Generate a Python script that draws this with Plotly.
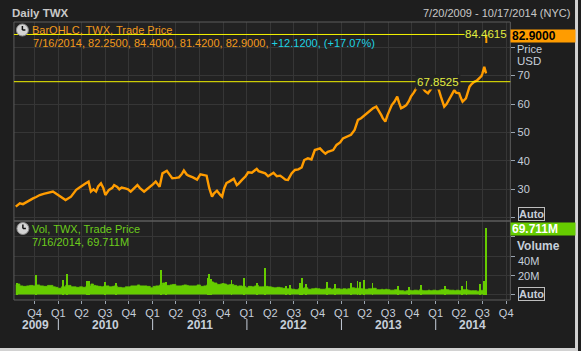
import plotly.graph_objects as go

# ---------------- data ----------------
dates = [
    "2009-07-20", "2009-07-28", "2009-08-05", "2009-08-17", "2009-08-31", "2009-09-11", "2009-09-25",
    "2009-10-07", "2009-10-21", "2009-11-05", "2009-11-20", "2009-12-11", "2009-12-21", "2009-12-30",
    "2010-01-13", "2010-01-29", "2010-02-19", "2010-03-11", "2010-03-24", "2010-04-05", "2010-04-16",
    "2010-04-28", "2010-05-07", "2010-05-17", "2010-05-27", "2010-06-04", "2010-06-15", "2010-06-24",
    "2010-07-02", "2010-07-16", "2010-07-29", "2010-08-05", "2010-08-17", "2010-08-25", "2010-09-03",
    "2010-09-17", "2010-09-28", "2010-10-08", "2010-10-21", "2010-11-03", "2010-11-12", "2010-11-29",
    "2010-12-10", "2010-12-23", "2011-01-03", "2011-01-13", "2011-01-28", "2011-02-08", "2011-02-18",
    "2011-02-25", "2011-03-09", "2011-03-18", "2011-04-01", "2011-04-13", "2011-04-25", "2011-05-02",
    "2011-05-13", "2011-05-20", "2011-06-06", "2011-06-22", "2011-07-05", "2011-07-18", "2011-07-29",
    "2011-08-08", "2011-08-19", "2011-08-26", "2011-09-07", "2011-09-20", "2011-09-27", "2011-10-05",
    "2011-10-14", "2011-10-26", "2011-11-11", "2011-11-23", "2011-11-30", "2011-12-13", "2011-12-27",
    "2012-01-06", "2012-01-20", "2012-01-31", "2012-02-08", "2012-02-15", "2012-02-27", "2012-03-12",
    "2012-03-23", "2012-04-05", "2012-04-13", "2012-04-26", "2012-05-09", "2012-05-18", "2012-05-29",
    "2012-06-08", "2012-06-22", "2012-07-05", "2012-07-18", "2012-07-31", "2012-08-10", "2012-08-24",
    "2012-09-07", "2012-09-20", "2012-09-28", "2012-10-10", "2012-10-19", "2012-10-31", "2012-11-09",
    "2012-11-21", "2012-11-30", "2012-12-13", "2012-12-27", "2013-01-07", "2013-01-18", "2013-01-25",
    "2013-02-07", "2013-02-21", "2013-03-06", "2013-03-18", "2013-03-25", "2013-04-05", "2013-04-15",
    "2013-04-25", "2013-05-03", "2013-05-16", "2013-05-29", "2013-06-05", "2013-06-10", "2013-06-20",
    "2013-06-28", "2013-07-08", "2013-07-15", "2013-07-25", "2013-08-05", "2013-08-12", "2013-08-20",
    "2013-08-30", "2013-09-09", "2013-09-19", "2013-09-27", "2013-10-08", "2013-10-17", "2013-10-23",
    "2013-10-30", "2013-11-06", "2013-11-12", "2013-11-21", "2013-12-02", "2013-12-10", "2013-12-20",
    "2014-01-02", "2014-01-13", "2014-01-21", "2014-02-03", "2014-02-12", "2014-02-21", "2014-03-03",
    "2014-03-14", "2014-03-21", "2014-04-02", "2014-04-09", "2014-04-15", "2014-04-28", "2014-05-05",
    "2014-05-12", "2014-05-20", "2014-05-30", "2014-06-09", "2014-06-19", "2014-06-27", "2014-07-01",
    "2014-07-08", "2014-07-15",
]
close = [
    23.9, 24.6, 25.1, 24.8, 25.6, 26.0, 26.8,
    27.3, 28.0, 28.4, 28.8, 29.2, 28.6, 28.0,
    27.2, 26.2, 27.4, 29.8, 30.6, 31.5, 32.0,
    32.7, 29.2, 30.0, 29.2, 31.0, 32.1, 30.5,
    28.0, 29.8, 30.5, 31.5, 30.8, 30.0, 30.6,
    30.3, 30.0, 29.2, 30.4, 31.5, 30.5, 29.2,
    30.0, 30.9, 31.8, 32.7, 30.9, 35.6, 36.0,
    36.5, 35.0, 33.9, 34.0, 34.2, 35.5, 36.6,
    35.2, 34.8, 34.2, 33.4, 35.3, 35.0, 34.8,
    30.5, 27.4, 28.5, 29.5, 28.0, 27.4, 30.3,
    32.2, 32.8, 33.7, 31.5, 32.0, 33.3, 34.6,
    36.0, 35.8, 36.6, 37.2, 36.4, 36.0, 35.6,
    34.6, 35.5, 35.8, 34.6, 34.8, 34.2, 33.4,
    33.3, 35.6, 36.8, 37.0, 37.7, 40.3, 40.9,
    40.5, 43.8, 44.0, 44.4, 43.5, 42.5, 43.2,
    43.5, 43.8, 45.6, 46.5, 47.9, 48.3, 48.5,
    49.2, 50.9, 54.4, 55.0, 55.5, 56.5, 57.3,
    58.0, 58.5, 59.1, 57.3, 56.0, 55.0, 53.8,
    56.0, 58.5, 59.6, 60.8, 62.6, 60.5, 58.5,
    59.0, 59.6, 61.0, 62.6, 64.0, 65.5, 66.5,
    67.3, 66.3, 65.5, 64.5, 63.8, 65.0, 66.1,
    67.3, 65.0, 62.6, 59.1, 60.0, 61.4, 63.0,
    64.9, 64.0, 63.8, 62.0, 60.8, 62.0, 64.0,
    66.1, 67.0, 67.8, 68.2, 69.0, 69.8, 70.8,
    73.1, 70.78,
]
base_vol = [  # millions
    10, 11, 9, 8.5, 9, 9.5, 9,
    10, 9, 8.5, 9.5, 8, 7.5, 6.5,
    8, 9.5, 8, 7.5, 8, 7.5, 8,
    9, 11, 9.5, 9, 8.5, 8, 8.5,
    9, 8, 8.5, 9, 7.5, 7.5, 7,
    8, 8, 9, 9, 10, 9, 9,
    8.5, 7, 8.5, 9, 10, 12, 10,
    9.5, 10, 10.5, 9, 9, 9.5, 10,
    9.5, 9, 9, 10, 8.5, 9, 10,
    14, 13, 12, 10.5, 11, 11.5, 11,
    10, 10.5, 9.5, 8.5, 9, 8.5, 7,
    8.5, 8, 9, 9.5, 8, 8, 8.5,
    8, 7.5, 7, 7.5, 7, 6.5, 6,
    6, 5.5, 5, 6, 6.5, 7, 5.5,
    6, 6.5, 6, 5.5, 5.5, 6, 6.5,
    5.5, 6, 6, 5.5, 6, 5.5, 6,
    7, 6.5, 6.5, 6, 5.5, 5.5, 6,
    6, 6.5, 5, 5, 5.5, 5, 5.5,
    5, 4.5, 4.5, 5, 5, 4, 4,
    3.5, 4, 4.5, 4, 4.5, 4.5, 4,
    5, 4.5, 4, 4, 4.5, 4, 4.5,
    4, 4.5, 5, 5.5, 5, 4.5, 4.5,
    4, 4.5, 4, 4.5, 5, 5, 4.5,
    4, 4, 4, 3.5, 4, 4.5, 4,
    5, 6,
]
spike_dates = [
    "2009-07-24", "2009-10-05", "2010-01-19", "2010-02-04", "2010-04-21", "2010-04-30", "2010-07-02",
    "2010-08-12", "2011-02-03", "2011-02-22", "2011-08-03", "2011-08-08", "2011-08-16", "2011-11-02",
    "2011-12-22", "2012-02-08", "2012-03-12", "2012-05-31", "2012-06-15", "2012-07-25", "2012-08-02",
    "2012-08-15", "2012-11-07", "2012-12-07", "2013-02-06", "2013-03-04", "2013-03-15", "2013-03-28",
    "2013-05-01", "2013-08-07", "2013-09-20", "2013-11-06", "2014-02-05", "2014-04-11", "2014-04-30",
    "2014-06-20", "2014-07-07", "2014-07-16",
]
spike_vol = [
    11.6, 20, 15, 21, 14, 14.5, 13,
    12, 25.5, 13, 17, 21, 16, 15,
    17, 12.5, 28, 9, 10, 11.6, 17.5,
    11, 13.4, 10.6, 12.3, 14, 13, 15,
    11.6, 9, 8.2, 10, 9, 9, 14.4,
    11, 14.4, 69.711,
]
last_bar_date = ["2014-07-16"]
last_open = [82.25]
last_high = [84.40]
last_low = [81.42]
last_close = [82.90]
last_volume = [69.711]
change_text = "+12.1200"
change_pct_text = "(+17.07%)"
period_high = 84.4615
ref_level = 67.8525

quarter_ticks = [
    "2009-10-01",
    "2010-01-01", "2010-04-01", "2010-07-01", "2010-10-01",
    "2011-01-01", "2011-04-01", "2011-07-01", "2011-10-01",
    "2012-01-01", "2012-04-01", "2012-07-01", "2012-10-01",
    "2013-01-01", "2013-04-01", "2013-07-01", "2013-10-01",
    "2014-01-01", "2014-04-01", "2014-07-01", "2014-10-01",
]
quarter_labels = ["Q4"] + ["Q1", "Q2", "Q3", "Q4"] * 5
year_labels = ["2009", "2010", "2011", "2012", "2013", "2014"]
year_label_dates = ["2009-10-04", "2010-07-02", "2011-07-02", "2012-07-01", "2013-07-02", "2014-05-25"]
year_starts = ["2010-01-01", "2011-01-01", "2012-01-01", "2013-01-01", "2014-01-01"]
price_ticks = [20, 30, 40, 50, 60, 70, 80]
price_tick_text = ["", "30", "40", "50", "60", "70", ""]
vol_ticks = [0, 20, 40, 60]
vol_tick_text = ["", "20M", "40M", ""]
x_range = ["2009-07-13", "2014-10-17"]

# ---------------- style ----------------
W, H = 581, 351


def px(x):
    return x / W


def py(y):
    return 1 - y / H


FONT = "Liberation Sans"
BG = "#1e1e1e"
PANE_BG = "#222222"
GRID = "#363636"
BORDER = "#5c5c5c"
AXIS_TXT = "#c6ceda"
ORANGE = "#ff9c00"
ORANGE_TXT = "#f29a1c"
GREEN = "#66cc00"
GREEN_TXT = "#6ccc1c"
CYAN = "#1fd2e4"
YELLOW = "#f4f400"
YELLOW_TXT = "#e2ee40"

fig = go.Figure()
fig.add_trace(go.Scatter(
    x=dates, y=base_vol, xaxis="x", yaxis="y", mode="lines",
    line=dict(color=GREEN, width=0.8, shape="hv"), fill="tozeroy", fillcolor=GREEN,
    hoverinfo="skip"))
fig.add_trace(go.Bar(
    x=spike_dates, y=spike_vol, xaxis="x", yaxis="y",
    width=[3.5 * 86400000] * len(spike_dates),
    marker=dict(color=GREEN, line=dict(width=0))))
fig.add_trace(go.Scatter(
    x=dates, y=close, xaxis="x2", yaxis="y2", mode="lines",
    line=dict(color=ORANGE, width=2.4)))
fig.add_trace(go.Scatter(
    x=last_bar_date * 2, y=[last_low[0], last_high[0]], xaxis="x2", yaxis="y2",
    mode="lines", line=dict(color=ORANGE, width=2)))

shapes = []
# pane borders
shapes.append(dict(type="rect", xref="paper", yref="paper", x0=px(14), x1=px(513),
                   y0=py(221), y1=py(22), line=dict(color=BORDER, width=1), layer="above"))
shapes.append(dict(type="rect", xref="paper", yref="paper", x0=px(14), x1=px(513),
                   y0=py(300), y1=py(221), line=dict(color=BORDER, width=1), layer="above"))
# high / reference lines
shapes.append(dict(type="line", xref="paper", yref="y2", x0=px(14), x1=px(467),
                   y0=period_high, y1=period_high, line=dict(color=YELLOW, width=1)))
shapes.append(dict(type="line", xref="paper", yref="y2", x0=px(14), x1=px(513),
                   y0=ref_level, y1=ref_level, line=dict(color=YELLOW, width=1)))
# year separators
for d in year_starts:
    shapes.append(dict(type="line", xref="x", yref="paper", x0=d, x1=d,
                       y0=py(330), y1=py(319), line=dict(color=AXIS_TXT, width=1)))
# clock icons
for cx, cy in [(22.5, 30), (23, 228.5)]:
    shapes.append(dict(type="circle", xref="paper", yref="paper",
                       x0=px(cx - 6), x1=px(cx + 6), y0=py(cy + 6), y1=py(cy - 6),
                       fillcolor="#d4d4d4", line=dict(color="#8c8c8c", width=1)))
    shapes.append(dict(type="line", xref="paper", yref="paper", x0=px(cx), x1=px(cx),
                       y0=py(cy), y1=py(cy - 4), line=dict(color="#111111", width=1.5)))
    shapes.append(dict(type="line", xref="paper", yref="paper", x0=px(cx), x1=px(cx + 3),
                       y0=py(cy), y1=py(cy), line=dict(color="#111111", width=1.5)))
# light window edge
shapes.append(dict(type="rect", xref="paper", yref="paper", x0=px(578), x1=1, y0=0, y1=1,
                   fillcolor="#d2d2d2", line=dict(width=0)))
shapes.append(dict(type="rect", xref="paper", yref="paper", x0=0, x1=1, y0=0, y1=py(348),
                   fillcolor="#d2d2d2", line=dict(width=0)))

ann = []


def text(x, y, s, color, size=11, xanchor="left", **kw):
    ann.append(dict(xref="paper", yref="paper", x=px(x), y=py(y), text=s, showarrow=False,
                    xanchor=xanchor, yanchor="middle",
                    font=dict(family=FONT, size=size, color=color), **kw))


text(10, 12.5, "<b>Daily TWX</b>", "#c8c8c8", 11.5)
text(575, 12.5, f"{int(dates[0][5:7])}/{int(dates[0][8:])}/{dates[0][:4]} - 10/17/2014 (NYC)",
     "#c8c8c8", 11, xanchor="right")
text(30, 30, "BarOHLC, TWX, Trade Price", ORANGE_TXT, 11)
d = last_bar_date[0]
dtxt = f"{int(d[5:7])}/{int(d[8:])}/{d[:4]}"
text(31, 43,
     f"<span style='color:{ORANGE_TXT}'>{dtxt}, {last_open[0]:.4f}, {last_high[0]:.4f}, "
     f"{last_low[0]:.4f}, {last_close[0]:.4f}, </span>"
     f"<span style='color:{CYAN}'>{change_text}, {change_pct_text}</span>", ORANGE_TXT, 11)
text(30, 229, "Vol, TWX, Trade Price", GREEN_TXT, 11)
text(30, 242.5, f"{dtxt}, {last_volume[0]:.3f}M", GREEN_TXT, 11)

# level labels
ann.append(dict(xref="paper", yref="y2", x=px(512), y=period_high, text=f"{period_high:.4f}",
                showarrow=False, xanchor="right", yanchor="middle",
                font=dict(family=FONT, size=11.5, color=YELLOW_TXT)))
ann.append(dict(xref="paper", yref="y2", x=px(440), y=ref_level, text=f"{ref_level:.4f}",
                showarrow=False, xanchor="center", yanchor="middle", bgcolor=PANE_BG, borderpad=1,
                font=dict(family=FONT, size=11.5, color=YELLOW_TXT)))

# right axis labels
text(518, 48.5, "Price", AXIS_TXT, 11)
text(518, 61, "USD", AXIS_TXT, 11.5)
ann.append(dict(xref="paper", yref="paper", x=px(513), y=py(36), text=f"<b>{last_close[0]:.4f}</b>",
                showarrow=False, xanchor="left", yanchor="middle", align="left",
                width=62, height=10, borderpad=1, bgcolor=ORANGE,
                font=dict(family=FONT, size=12, color="#000000")))
ann.append(dict(xref="paper", yref="paper", x=px(513), y=py(229), text=f"<b>{last_volume[0]:.3f}M</b>",
                showarrow=False, xanchor="left", yanchor="middle", align="left",
                width=62, height=10, borderpad=1, bgcolor=GREEN,
                font=dict(family=FONT, size=12, color="#ffffff")))
text(518, 246, "<b>Volume</b>", AXIS_TXT, 12)
# volume tick labels (40M sits a little lower, under the "Volume" title)
for lab, yy in zip(vol_tick_text[1:3], (276, 261)):
    text(519, yy, lab, AXIS_TXT, 11)
for yy in (214, 293.5):
    ann.append(dict(xref="paper", yref="paper", x=px(520.5), y=py(yy), text="<b>Auto</b>",
                    showarrow=False, xanchor="left", yanchor="middle",
                    bordercolor="#bdbdbd", borderwidth=1, borderpad=0, bgcolor=BG,
                    font=dict(family=FONT, size=11, color=AXIS_TXT)))

# year labels
for lab, dd in zip(year_labels, year_label_dates):
    ann.append(dict(xref="x", yref="paper", x=dd, y=py(324.5), text=f"<b>{lab}</b>", showarrow=False,
                    xanchor="center", yanchor="middle",
                    font=dict(family=FONT, size=12, color=AXIS_TXT)))

xcommon = dict(type="date", range=x_range, domain=[px(14), px(513)], tickmode="array",
               tickvals=quarter_ticks, showgrid=True, gridcolor=GRID, gridwidth=1,
               zeroline=False, showline=False)
fig.update_layout(
    width=W, height=H, margin=dict(l=0, r=0, t=0, b=0, pad=0),
    paper_bgcolor=BG, plot_bgcolor=PANE_BG, showlegend=False, bargap=0,
    font=dict(family=FONT, size=11, color=AXIS_TXT),
    xaxis=dict(**xcommon, anchor="y", ticktext=quarter_labels, ticks="outside", ticklen=3,
               tickcolor="#9aa4b0", tickfont=dict(family=FONT, size=11, color=AXIS_TXT)),
    xaxis2=dict(**xcommon, anchor="y2", matches="x", showticklabels=False, ticks=""),
    yaxis=dict(domain=[py(300), py(221)], anchor="x", side="right", range=[-5.7, 76.6],
               tickmode="array", tickvals=vol_ticks, showticklabels=False, ticks="outside",
               ticklen=4, tickcolor="#9aa4b0", showgrid=True, gridcolor=GRID, zeroline=False,
               showline=False),
    yaxis2=dict(domain=[py(221), py(22)], anchor="x2", side="right", range=[18.85, 88.85],
                tickmode="array", tickvals=price_ticks, ticktext=price_tick_text, ticks="outside",
                ticklen=4, tickcolor="#9aa4b0", showgrid=True, gridcolor=GRID, zeroline=False,
                showline=False, tickfont=dict(family=FONT, size=11, color=AXIS_TXT)),
    shapes=shapes, annotations=ann,
)

fig.write_html("out.html")
